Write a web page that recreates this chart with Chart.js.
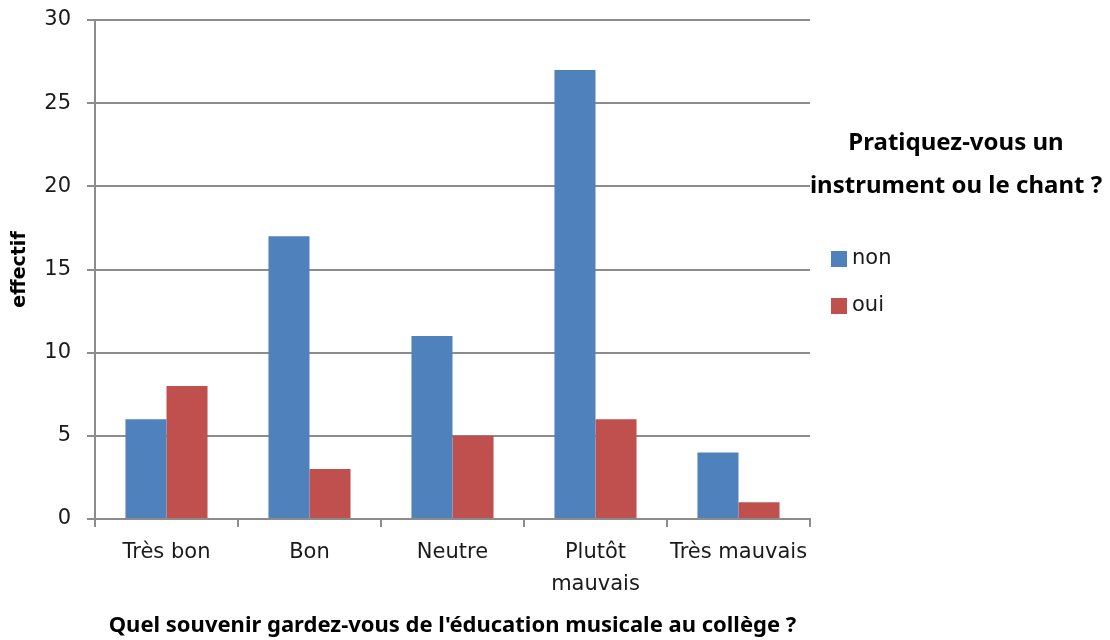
<!DOCTYPE html>
<html>
<head>
<meta charset="utf-8">
<script src="https://cdn.jsdelivr.net/npm/chart.js@4/dist/chart.umd.min.js"></script>
<style>
  html, body { margin: 0; padding: 0; background: #ffffff; }
  #wrap { width: 1110px; height: 640px; position: relative; }
</style>
</head>
<body>
<div id="wrap"><canvas id="c" width="1110" height="640"></canvas></div>
<script>
const categories = ["Très bon", "Bon", "Neutre", ["Plutôt", "mauvais"], "Très mauvais"];
const nonValues = [6, 17, 11, 27, 4];
const ouiValues = [8, 3, 5, 6, 1];
const seriesNames = ["non", "oui"];
const yMin = 0, yMax = 30, yStep = 5;
const xTitle = "Quel souvenir gardez-vous de l'éducation musicale au collège ?";
const yTitle = "effectif";
const legendTitle = ["Pratiquez-vous un", "instrument ou le chant ?"];

const BLUE = "#4F81BD";
const RED = "#C0504D";
const GRID = "#8c8c8c";
const TEXT = "#1a1a1a";

const legendPlugin = {
  id: "sideLegend",
  afterDraw(chart) {
    const ctx = chart.ctx;
    ctx.save();
    ctx.fillStyle = "#000";
    ctx.font = "bold 24px 'Noto Sans'";
    ctx.textAlign = "center";
    ctx.textBaseline = "middle";
    legendTitle.forEach((line, i) => ctx.fillText(line, 956, 143 + i * 43));
    ctx.font = "21px 'DejaVu Sans'";
    ctx.textAlign = "left";
    chart.data.datasets.forEach((ds, i) => {
      const y = 259 + i * 47;
      ctx.fillStyle = ds.backgroundColor;
      ctx.fillRect(831, y - 8, 16, 16);
      ctx.fillStyle = TEXT;
      ctx.fillText(ds.label, 852, y);
    });
    ctx.restore();
  }
};

new Chart(document.getElementById("c"), {
  type: "bar",
  data: {
    labels: categories,
    datasets: [
      { label: seriesNames[0], data: nonValues, backgroundColor: BLUE, borderWidth: 0 },
      { label: seriesNames[1], data: ouiValues, backgroundColor: RED, borderWidth: 0 }
    ]
  },
  options: {
    responsive: false,
    animation: false,
    devicePixelRatio: 1,
    layout: { padding: { top: 20, right: 300, left: 0, bottom: 0 } },
    plugins: { legend: { display: false }, tooltip: { enabled: false } },
    datasets: { bar: { categoryPercentage: 0.574, barPercentage: 1.0 } },
    scales: {
      x: {
        grid: { display: true, drawOnChartArea: false, drawTicks: true, tickLength: 8, color: GRID, lineWidth: 2, offset: true },
        border: { display: true, color: GRID, width: 2 },
        ticks: { color: TEXT, font: { family: "DejaVu Sans", size: 21, lineHeight: 1.5 }, padding: 10, maxRotation: 0, autoSkip: false },
        title: { display: true, text: xTitle, color: "#000", font: { family: "Noto Sans", size: 22, weight: "bold" }, padding: { top: 0, bottom: 1 } },
        afterFit(scale) { scale.height = 121; }
      },
      y: {
        min: yMin, max: yMax,
        grid: { color: GRID, lineWidth: 2, tickLength: 8, drawTicks: true },
        border: { display: true, color: GRID, width: 2 },
        ticks: { stepSize: yStep, color: TEXT, font: { family: "DejaVu Sans", size: 21, lineHeight: 0.3 }, padding: 16 },
        title: { display: true, text: yTitle, color: "#000", font: { family: "DejaVu Sans", size: 19, weight: "bold" }, padding: { top: 9, bottom: 0 } },
        afterFit(scale) { scale.width = 95; }
      }
    }
  },
  plugins: [legendPlugin]
});
</script>
</body>
</html>
